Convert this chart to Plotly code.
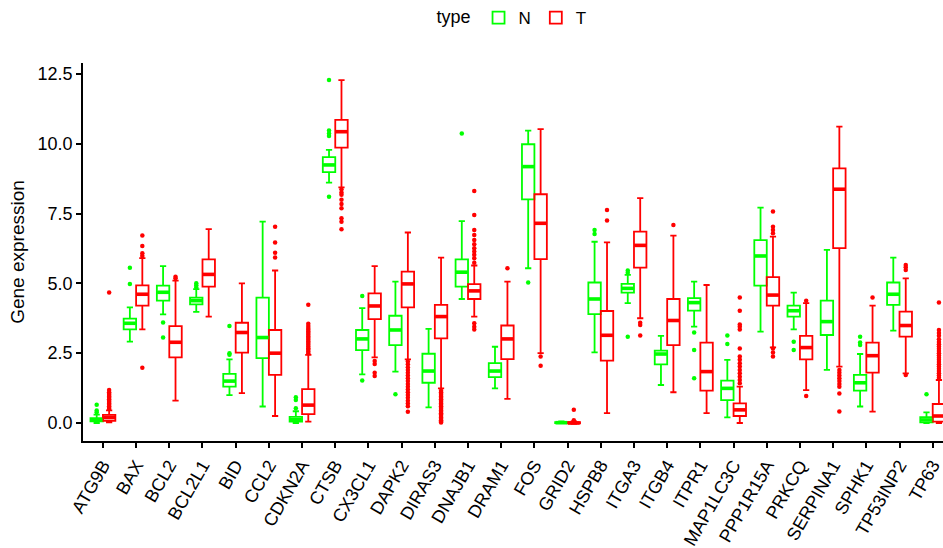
import plotly.graph_objects as go

genes = ["ATG9B", "BAX", "BCL2", "BCL2L1", "BID", "CCL2", "CDKN2A", "CTSB", "CX3CL1",
         "DAPK2", "DIRAS3", "DNAJB1", "DRAM1", "FOS", "GRID2", "HSPB8", "ITGA3", "ITGB4",
         "ITPR1", "MAP1LC3C", "PPP1R15A", "PRKCQ", "SERPINA1", "SPHK1", "TP53INP2", "TP63"]

# Normal (N) box statistics
n_low = [0.00, 2.91, 3.89, 3.98, 1.00, 0.59, 0.00, 8.61, 1.74, 1.84, 0.56, 4.44, 1.24,
         5.54, 0.00, 2.53, 4.29, 1.36, 3.45, 0.20, 3.27, 3.35, 1.90, 0.59, 3.31, 0.00]
n_q1 = [0.06, 3.35, 4.38, 4.25, 1.30, 2.32, 0.05, 8.98, 2.61, 2.79, 1.44, 4.88, 1.64,
        8.01, 0.00, 3.90, 4.67, 2.10, 4.02, 0.82, 4.92, 3.81, 3.15, 1.16, 4.23, 0.02]
n_med = [0.11, 3.57, 4.68, 4.38, 1.50, 3.06, 0.12, 9.24, 3.01, 3.33, 1.86, 5.40, 1.86,
         9.18, 0.01, 4.44, 4.82, 2.47, 4.31, 1.24, 5.98, 4.02, 3.63, 1.44, 4.61, 0.11]
n_q3 = [0.17, 3.74, 4.92, 4.49, 1.76, 4.49, 0.22, 9.52, 3.33, 3.84, 2.48, 5.86, 2.14,
        9.98, 0.03, 5.03, 4.98, 2.59, 4.47, 1.52, 6.55, 4.20, 4.38, 1.72, 5.03, 0.21]
n_high = [0.30, 4.14, 5.62, 4.79, 2.28, 7.21, 0.42, 9.78, 4.11, 5.06, 3.37, 7.23, 2.73,
          10.47, 0.06, 6.49, 5.30, 3.12, 5.06, 2.26, 7.71, 4.67, 6.20, 2.47, 5.92, 0.38]
n_out = [
    [0.38, 0.45, 0.65], [4.98, 5.56], [3.06, 3.60], [4.85, 4.93, 5.00], [2.44, 2.50, 3.47],
    [], [0.53, 0.82, 0.92], [8.10, 10.28, 10.37, 10.47, 12.28], [1.52, 4.55], [1.03],
    [], [10.37], [], [5.03], [], [6.77, 6.91], [3.09, 5.38, 5.46], [], [1.60, 2.61, 3.24],
    [2.83, 3.13], [], [2.61, 2.91], [], [2.79, 2.88, 3.09], [], [1.03],
]

# Tumour (T) box statistics
t_low = [0.02, 3.35, 0.80, 3.81, 1.07, 0.25, 0.05, 8.44, 2.35, 2.28, 1.24, 3.81, 0.86,
         2.50, -0.03, 0.35, 3.75, 1.10, 0.35, 0.00, 2.71, 1.18, 2.02, 0.41, 1.78, 0.00]
t_q1 = [0.08, 4.20, 2.35, 4.88, 2.52, 1.72, 0.32, 9.86, 3.72, 4.14, 3.03, 4.44, 2.29,
        5.87, -0.01, 2.23, 5.56, 2.79, 1.16, 0.25, 4.20, 2.28, 6.26, 1.80, 3.09, 0.05]
t_med = [0.20, 4.61, 2.89, 5.32, 3.24, 2.50, 0.64, 10.43, 4.19, 4.98, 3.81, 4.73, 3.01,
         7.15, 0.00, 3.14, 6.36, 3.67, 1.84, 0.47, 4.58, 2.70, 8.37, 2.41, 3.49, 0.25]
t_q3 = [0.29, 4.93, 3.47, 5.86, 3.59, 3.33, 1.21, 10.85, 4.64, 5.42, 4.23, 4.97, 3.49,
        8.19, 0.03, 4.01, 6.85, 4.44, 2.88, 0.70, 5.22, 3.12, 9.12, 2.88, 3.99, 0.68]
t_high = [0.45, 5.90, 5.10, 6.94, 5.00, 5.46, 2.44, 12.28, 5.62, 6.82, 5.92, 5.64, 5.06,
          10.52, 0.06, 6.47, 8.05, 6.71, 4.94, 1.30, 6.67, 4.29, 10.61, 4.20, 5.18, 1.54]
t_out = [
    [0.50, 0.55, 0.60, 0.65, 0.70, 0.75, 0.80, 0.85, 0.90, 0.95, 1.00, 1.05, 1.10, 1.18, 4.67],
    [1.98, 5.98, 6.08, 6.34, 6.71],
    [5.18, 5.24],
    [],
    [],
    [5.93, 6.10, 6.46, 7.03],
    [2.50, 2.56, 2.62, 2.68, 2.74, 2.80, 2.86, 2.92, 2.98, 3.04, 3.10, 3.16, 3.22, 3.28,
     3.34, 3.40, 3.47, 3.55, 4.23],
    [6.94, 7.21, 7.33, 7.69, 7.84, 7.99, 8.17, 8.25, 8.37],
    [1.68, 1.80, 2.11, 2.22],
    [0.40, 0.60, 0.70, 0.80, 0.90, 1.00, 1.10, 1.20, 1.30, 1.40, 1.50, 1.60, 1.70, 1.80,
     1.90, 2.00, 2.10, 2.20],
    [0.02, 0.05, 0.10, 0.15, 0.20, 0.25, 0.30, 0.35, 0.40, 0.45, 0.50, 0.55, 0.60, 0.65,
     0.70, 0.75, 0.80, 0.85, 0.90, 0.95, 1.00, 1.05, 1.10, 1.15],
    [3.35, 3.45, 3.57, 5.74, 5.90, 6.02, 6.14, 6.26, 6.40, 6.55, 6.73, 6.91, 7.45, 8.31],
    [5.54],
    [2.05, 2.38],
    [0.10, 0.47],
    [7.25, 7.63],
    [3.13, 3.51, 3.59],
    [7.09],
    [],
    [1.42, 1.54, 1.66, 1.78, 1.90, 2.02, 2.14, 2.26, 2.38, 2.67, 3.35, 3.45, 3.53, 4.02, 4.49],
    [2.38, 2.52, 2.67, 6.79, 6.91, 7.03, 7.57],
    [0.97, 4.38],
    [0.41, 1.06, 1.30, 1.40, 1.50, 1.60, 1.70, 1.80, 1.90],
    [4.49],
    [1.72, 5.48, 5.58, 5.66],
    [1.62, 1.70, 1.78, 1.86, 1.94, 2.02, 2.10, 2.18, 2.26, 2.34, 2.42, 2.50, 2.58, 2.66,
     2.74, 2.82, 2.90, 3.00, 3.12, 3.22, 3.33, 4.31],
]

groups = ["N", "T"]
colors = {"N": "#00FF00", "T": "#FF0000"}
BOXW = 0.375
FONT = "Liberation Sans, Arial, sans-serif"

stats = {
    "N": (n_low, n_q1, n_med, n_q3, n_high, n_out, -BOXW / 2),
    "T": (t_low, t_q1, t_med, t_q3, t_high, t_out, BOXW / 2),
}

fig = go.Figure()
for g in groups:
    lo, q1, med, q3, hi, outs, off = stats[g]
    xs = [i + off for i in range(len(genes))]
    fig.add_trace(go.Box(
        x=xs, q1=q1, median=med, q3=q3, lowerfence=lo, upperfence=hi,
        width=BOXW, name=g, legendgroup=g, boxpoints=False,
        line=dict(color=colors[g], width=1.8), fillcolor="rgba(255,255,255,0)",
        hoverinfo="skip",
    ))
    # thicker median lines (ggplot fatten)
    mx, my = [], []
    for x, m in zip(xs, med):
        mx += [x - BOXW / 2 + 0.01, x + BOXW / 2 - 0.01, None]
        my += [m, m, None]
    fig.add_trace(go.Scatter(x=mx, y=my, mode="lines", showlegend=False,
                             line=dict(color=colors[g], width=3.6), hoverinfo="skip"))
    # outliers
    ox, oy = [], []
    for x, o in zip(xs, outs):
        ox += [x] * len(o)
        oy += o
    fig.add_trace(go.Scatter(x=ox, y=oy, mode="markers", showlegend=False,
                             marker=dict(color=colors[g], size=4.5), hoverinfo="skip"))

fig.update_layout(
    width=943, height=548,
    margin=dict(l=83, r=0, t=63, b=107),
    paper_bgcolor="white", plot_bgcolor="white",
    boxmode="overlay",
    font=dict(family=FONT, size=18, color="black"),
    legend=dict(orientation="h", x=0.5, xanchor="center", y=1.119, yanchor="middle",
                title=dict(text="type", font=dict(size=18)), font=dict(size=17),
                itemwidth=30),
    xaxis=dict(range=[-0.6, 25.31], tickmode="array",
               tickvals=list(range(len(genes))), ticktext=genes,
               tickangle=-60, showgrid=False, zeroline=False,
               showline=True, linecolor="black", linewidth=1.5,
               ticks="outside", ticklen=5, tickwidth=1.5, tickcolor="black",
               ticklabeloverflow="allow",
               tickfont=dict(size=18, color="black")),
    yaxis=dict(range=[-0.645, 12.89], tickvals=[0, 2.5, 5, 7.5, 10, 12.5],
               ticktext=["0.0", "2.5", "5.0", "7.5", "10.0", "12.5"],
               showgrid=False, zeroline=False,
               showline=True, linecolor="black", linewidth=1.5,
               ticks="outside", ticklen=5, tickwidth=1.5, tickcolor="black",
               tickfont=dict(size=18, color="black"),
               title=dict(text="Gene expression", font=dict(size=19), standoff=8)),
)

fig.write_html("out.html")
